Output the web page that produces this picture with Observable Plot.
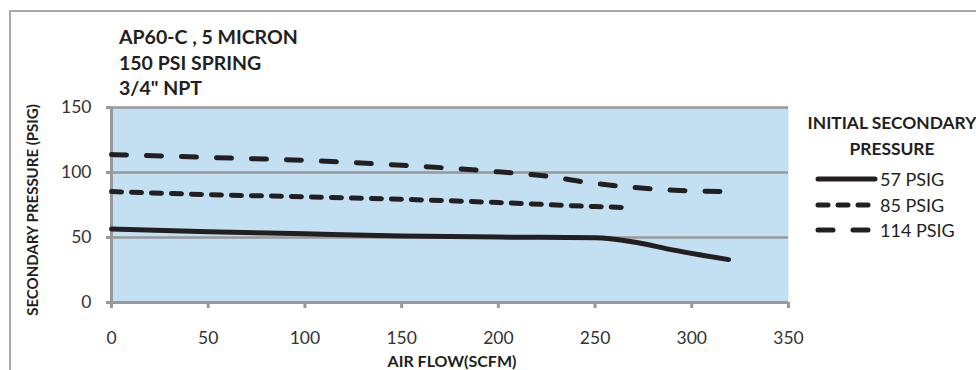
<!DOCTYPE html>
<html><head><meta charset="utf-8">
<script src="https://cdn.jsdelivr.net/npm/d3@7"></script>
<script src="https://cdn.jsdelivr.net/npm/@observablehq/plot@0.6"></script>
<style>
body{margin:0;background:#fff;}
#wrap{position:relative;width:976px;height:370px;overflow:hidden;font-family:Lato,"Open Sans",sans-serif;background:#fff;}
#wrap svg{position:absolute;left:0;top:0;}
#border{position:absolute;left:9px;top:10px;width:1000px;height:400px;border-top:2.5px solid #a8a8a8;border-left:2.5px solid #a8a8a8;}
.t{position:absolute;font-weight:bold;color:#231f20;white-space:nowrap;}
.lg{position:absolute;color:#231f20;white-space:nowrap;font-size:18px;display:flex;align-items:center;}
</style></head><body>
<div id="wrap"><div id="border"></div></div>
<script>
const titleLines = ["AP60-C , 5 MICRON", "150 PSI SPRING", "3/4\" NPT"];
const xLabel = "AIR FLOW(SCFM)";
const yLabel = "SECONDARY PRESSURE (PSIG)";
const legendTitle = ["INITIAL SECONDARY", "PRESSURE"];
const xTicks = [0, 50, 100, 150, 200, 250, 300, 350];
const yTicks = [0, 50, 100, 150];

const seriesNames = ["57 PSIG", "85 PSIG", "114 PSIG"];
const flow57 = [0, 50, 100, 150, 200, 250, 270, 290, 319];
const press57 = [56.5, 54.5, 52.8, 51.2, 50.3, 49.8, 46.5, 40.5, 33];
const flow85 = [0, 50, 100, 150, 200, 250, 267];
const press85 = [85.3, 83, 81.3, 79.4, 76.9, 73.8, 73];
const flow114 = [0, 50, 100, 150, 175, 200, 225, 245, 265, 285, 320];
const press114 = [113.8, 111.6, 109.3, 105.6, 103.3, 100.5, 97.2, 92.6, 89.2, 86.8, 85.2];
const dashes = [null, "10,10", "15,20"];

const table = (fx, py) => fx.map((x, i) => ({x, y: py[i]}));
const data = [table(flow57, press57), table(flow85, press85), table(flow114, press114)];
const ink = "#231f20";

const chart = Plot.plot({
  width: 976, height: 370,
  marginLeft: 111, marginRight: 188, marginTop: 107, marginBottom: 68,
  x: {domain: [0, 350]},
  y: {domain: [0, 150]},
  style: {fontFamily: "Lato, 'Open Sans', sans-serif", fontSize: "17.5px", color: "#333", background: "transparent", overflow: "visible"},
  marks: [
    Plot.frame({fill: "#c3e0f2", stroke: null}),
    Plot.gridY(yTicks.filter(d => d > 0), {stroke: "#999", strokeOpacity: 1, strokeWidth: 2.5}),
    Plot.ruleX([0], {stroke: "#999", strokeWidth: 3}),
    Plot.ruleY([0], {stroke: "#999", strokeWidth: 3}),
    Plot.axisX({ticks: xTicks, tickSize: 6, tickPadding: 23, stroke: "#999", strokeWidth: 3, label: null, fill: "#333"}),
    Plot.axisY({ticks: yTicks, tickSize: 5, tickPadding: 15, stroke: "#999", strokeWidth: 3, label: null, fill: "#333"}),
    ...data.map((d, i) => Plot.line(d, {
      x: "x", y: "y", stroke: ink, strokeWidth: 5, strokeLinecap: "round",
      strokeDasharray: dashes[i] ?? undefined, curve: "monotone-x"
    }))
  ]
});
const wrap = document.getElementById("wrap");
wrap.appendChild(chart);

function addDiv(cls, text, style) {
  const d = document.createElement("div");
  d.className = cls; d.textContent = text;
  Object.assign(d.style, style);
  wrap.appendChild(d);
  return d;
}
titleLines.forEach((t, i) => addDiv("t", t, {left: "119px", top: (24 + i * 25.5) + "px", fontSize: "19.5px", lineHeight: "26px"}));
addDiv("t", xLabel, {left: "452px", top: "350px", fontSize: "16px", lineHeight: "22px", transform: "translateX(-50%)"});
addDiv("t", yLabel, {left: "32px", top: "210px", fontSize: "15px", lineHeight: "20px", transform: "translate(-50%,-50%) rotate(-90deg)"});
legendTitle.forEach((t, i) => addDiv("t", t, {left: "892px", top: (111 + i * 26) + "px", fontSize: "17.4px", lineHeight: "24px", transform: "translateX(-50%)"}));
seriesNames.forEach((name, i) => {
  const row = document.createElement("div");
  row.className = "lg";
  Object.assign(row.style, {left: "813px", top: (167 + i * 25.5) + "px", height: "24px"});
  const dash = dashes[i] ? `stroke-dasharray="${dashes[i]}"` : "";
  row.innerHTML = `<svg width="66" height="24" style="position:static"><line x1="5" x2="62" y1="12" y2="12" stroke="${ink}" stroke-width="5" stroke-linecap="round" ${dash}/></svg><span style="margin-left:1px">${name}</span>`;
  wrap.appendChild(row);
});
</script>
</body></html>
